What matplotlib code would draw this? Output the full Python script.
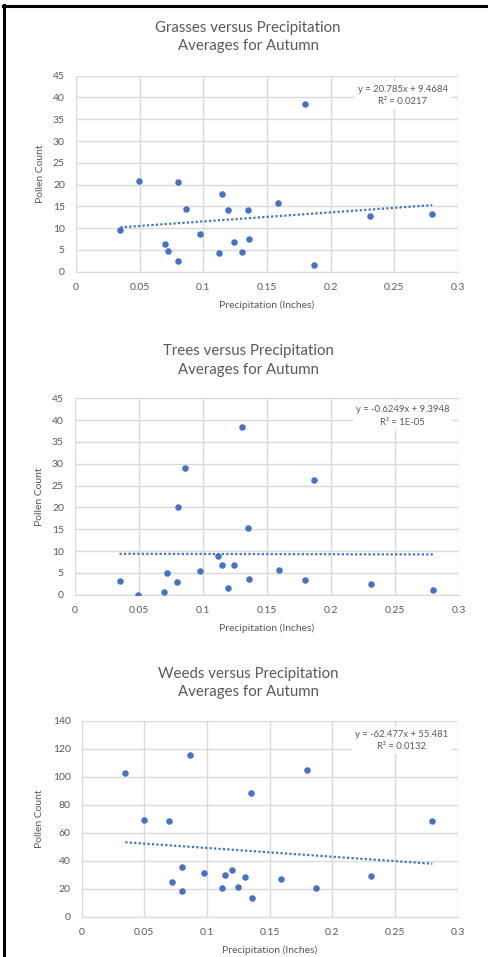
import matplotlib
matplotlib.use("Agg")
import matplotlib.pyplot as plt
from matplotlib.lines import Line2D
import numpy as np

plt.rcParams['font.family'] = ['Lato', 'DejaVu Sans']

# ---- data ----
precip = [0.0348, 0.0495, 0.0697, 0.0720, 0.0799, 0.0804, 0.0862, 0.0975, 0.1121, 0.1145,
          0.1197, 0.1244, 0.1305, 0.1352, 0.1357, 0.1590, 0.1800, 0.1870, 0.2310, 0.2798]
grasses = [9.5, 20.9, 6.3, 4.8, 2.5, 20.7, 14.4, 8.7, 4.3, 17.9,
           14.1, 6.9, 4.6, 14.2, 7.6, 15.7, 38.4, 1.5, 12.7, 13.2]
trees = [3.1, 0.0, 0.7, 5.0, 2.8, 20.0, 29.0, 5.4, 8.9, 6.8,
         1.5, 6.7, 38.4, 15.2, 3.5, 5.6, 3.4, 26.3, 2.4, 1.1]
weeds = [102.4, 69.4, 68.7, 25.2, 18.3, 35.4, 115.5, 31.4, 20.4, 30.2,
         33.5, 21.4, 28.8, 88.4, 13.3, 27.3, 104.6, 20.4, 29.2, 68.2]

titles = ["Grasses versus Precipitation\nAverages for Autumn",
          "Trees versus Precipitation\nAverages for Autumn",
          "Weeds versus Precipitation\nAverages for Autumn"]
slopes = [20.785, -0.6249, -62.477]
intercepts = [9.4684, 9.3948, 55.481]
slope_txt = ["20.785", "-0.6249", "-62.477"]
intercept_txt = ["9.4684", "9.3948", "55.481"]
r2_txt = ["0.0217", "1E-05", "0.0132"]
y_max = [45, 45, 140]
y_step = [5, 5, 20]
x_ticks = [0, 0.05, 0.1, 0.15, 0.2, 0.25, 0.3]
x_tick_labels = ["0", "0.05", "0.1", "0.15", "0.2", "0.25", "0.3"]
x_label = "Precipitation (Inches)"
y_label = "Pollen Count"

# ---- layout (pixels) ----
W, H = 490, 957
fig = plt.figure(figsize=(W / 100, H / 100), dpi=100)
# (left, right, top, bottom) of plot areas in pixels
boxes = [(76, 458, 75.7, 271.7), (75, 459, 398.3, 594.7), (81.7, 457.7, 720.7, 917)]
title_y = [37, 360.5, 683]
eq_pos = [(0.856, 0.90), (0.853, 0.91), (0.851, 0.90)]

BLUE = "#4472C4"
GRID = "#D9D9D9"
TXT = "#595959"

series = [grasses, trees, weeds]
for i in range(3):
    l, r, t, b = boxes[i]
    ax = fig.add_axes([l / W, 1 - b / H, (r - l) / W, (b - t) / H])
    ax.set_xlim(0, 0.3)
    ax.set_ylim(0, y_max[i])
    ax.set_xticks(x_ticks)
    ax.set_xticklabels(x_tick_labels)
    ax.set_yticks(np.arange(0, y_max[i] + 0.001, y_step[i]))
    ax.set_yticklabels([str(int(v)) for v in np.arange(0, y_max[i] + 0.001, y_step[i])])
    ax.grid(True, color=GRID, linewidth=1.0)
    ax.set_axisbelow(True)
    for s in ax.spines.values():
        s.set_visible(False)
    ax.spines['bottom'].set_visible(True)
    ax.spines['bottom'].set_color(GRID)
    ax.tick_params(length=0, labelsize=7.5, colors=TXT, pad=8)
    ax.scatter(precip, series[i], s=22, color=BLUE, zorder=3, linewidths=0)
    xs = np.array([min(precip), max(precip)])
    ax.plot(xs, slopes[i] * xs + intercepts[i], linestyle=(0, (1, 1)), color=BLUE,
            linewidth=1.6, zorder=2)
    ax.set_xlabel(x_label, fontsize=7.5, color=TXT, labelpad=6)
    ax.set_ylabel(y_label, fontsize=7.5, color=TXT, labelpad=6)
    ax.text(eq_pos[i][0], eq_pos[i][1],
            f"y = {slope_txt[i]}x + {intercept_txt[i]}\nR\u00b2 = {r2_txt[i]}",
            transform=ax.transAxes, ha="center", va="center", fontsize=6.8,
            color=TXT, linespacing=1.5, zorder=4,
            bbox=dict(facecolor="white", edgecolor="none", pad=2))
    fig.text(248 / W, 1 - title_y[i] / H, titles[i], ha="center", va="center",
             fontsize=10.8, color=TXT, linespacing=1.4)

# outer frame lines
fig.add_artist(Line2D([3 / W, 486 / W], [1 - 6 / H, 1 - 6 / H], color="black", linewidth=2.2))
fig.add_artist(Line2D([4 / W, 4 / W], [0, 1 - 5 / H], color="black", linewidth=2.2))

fig.savefig("out.png", dpi=100, facecolor="white")
